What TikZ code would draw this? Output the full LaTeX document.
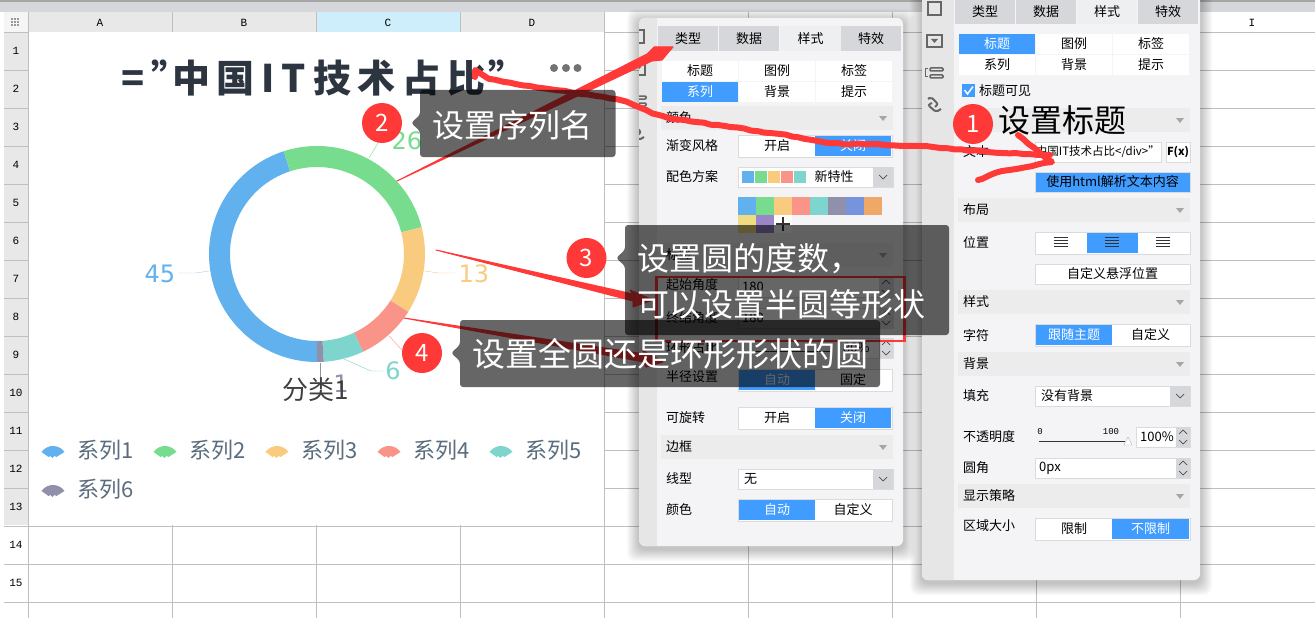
\documentclass[tikz,border=0pt]{standalone}
\usepackage{fontspec}
\setmainfont{Noto Sans CJK SC}
\newfontfamily\digitfont{DejaVu Sans}
\newfontfamily\cellfont{Liberation Mono}
\usetikzlibrary{decorations.pathmorphing}

\definecolor{uiblue}{HTML}{409CFF}
\definecolor{uitab}{HTML}{D6D7DA}
\definecolor{uilight}{HTML}{EEEFF1}
\definecolor{uipanel}{HTML}{F4F4F6}
\definecolor{uistrip}{HTML}{E6E6E6}
\definecolor{uibar}{HTML}{ECECEC}
\definecolor{uiedge}{HTML}{DADBDD}
\definecolor{gridline}{HTML}{BFBFBF}
\definecolor{headgray}{HTML}{E8E8E8}
\definecolor{headblue}{HTML}{CDEEFA}
\definecolor{markred}{HTML}{FF3838}
\definecolor{ringblue}{HTML}{62B1EF}
\definecolor{ringgreen}{HTML}{78DC8F}
\definecolor{ringyellow}{HTML}{F8CB7E}
\definecolor{ringred}{HTML}{FA9488}
\definecolor{ringteal}{HTML}{7DD5CD}
\definecolor{ringgray}{HTML}{9090AA}
\definecolor{legendtext}{HTML}{5A6C7D}
\definecolor{titletext}{HTML}{2C3540}

\tikzset{
  uilabel/.style={inner sep=0pt,font=\fontsize{13}{15}\selectfont},
  cellon/.style={fill=uiblue,text=white},
  celloff/.style={fill=white,text=black},
  tabdark/.style={fill=uitab,text=black},
  tablight/.style={fill=uilight,text=black},
  rowmark/.style={inner sep=0pt,font=\cellfont\fontsize{11}{13}\selectfont},
  chartnum/.style={inner sep=0pt,font=\digitfont\fontsize{24}{26}\selectfont},
  legendlabel/.style={inner sep=0pt,anchor=west,text=legendtext,font=\fontsize{22}{24}\selectfont},
  calloutlabel/.style={inner sep=0pt,anchor=west,text=white,align=left,font=\fontsize{32}{46}\selectfont},
  stepdot/.style={circle,fill=markred,text=white,minimum size=40pt,inner sep=0pt,font=\fontsize{24}{26}\selectfont},
  freehand/.style={draw=markred,line width=6pt,line cap=round,line join=round,
    decorate,decoration={random steps,segment length=7pt,amplitude=.7pt}},
}

% one text cell of the panels
\newcommand{\uicell}[6]{%
  \path[#5] (#1,#2) rectangle (#3,#4);
  \node[uilabel,#5] at ({(#1+#3)/2},{(#2+#4)/2}) {#6};}
\newcommand{\uitag}[3]{\node[uilabel,anchor=west,text=black] at (#1,#2) {#3};}
\newcommand{\uisection}[4]{%
  \fill[uibar] (#1,#3) rectangle (#2,#3+24);
  \uitag{#1+5}{#3+12}{#4}
  \fill[black!35] (#2-14,#3+10) -- (#2-6,#3+10) -- (#2-10,#3+15) -- cycle;}
\newcommand{\uitoggle}[8]{%
  \fill[white,draw=uiedge] (#1,#4) rectangle (#3,#4+22);
  \uicell{#1+1}{#4+1}{#2}{#4+21}{#7}{#5}
  \uicell{#2}{#4+1}{#3-1}{#4+21}{#8}{#6}}
\newcommand{\chevron}[2]{\draw[black!70,line width=.7pt] (#1-4,#2-2) -- (#1,#2+2) -- (#1+4,#2-2);}
\newcommand{\uicombo}[4]{%
  \fill[white,draw=uiedge] (#1,#3) rectangle (#2,#3+20);
  \fill[uitab] (#2-20,#3) rectangle (#2,#3+20);
  \chevron{#2-10}{#3+10}
  \uitag{#1+6}{#3+10}{#4}}
\newcommand{\uispin}[4]{%
  \fill[white,draw=uiedge] (#1,#3) rectangle (#2,#3+20);
  \fill[uitab] (#2-14,#3) rectangle (#2,#3+20);
  \draw[black!70,line width=.7pt] (#2-11,#3+7) -- (#2-7,#3+3) -- (#2-3,#3+7);
  \draw[black!70,line width=.7pt] (#2-11,#3+13) -- (#2-7,#3+17) -- (#2-3,#3+13);
  \uitag{#1+4}{#3+10}{#4}}
\newcommand{\uipanel}[5]{%
  \foreach \s in {1,...,12}
    \fill[black,opacity=.02,rounded corners=8pt] (#1-\s,#2-\s+3) rectangle (#3+\s,#4+\s+3);
  \fill[uipanel,rounded corners=6pt] (#1,#2) rectangle (#3,#4);
  \fill[uistrip,rounded corners=6pt] (#1,#2) rectangle (#5+6,#4);
  \fill[uipanel] (#5,#2) rectangle (#5+8,#4);}
\newcommand{\sideicons}{%
  \draw[black!60,line width=2pt] (928,2) rectangle (941,15);
  \draw[black!60,line width=1.5pt] (927,35) rectangle (942,47);
  \fill[black!60] (931,39) -- (938,39) -- (934.5,43) -- cycle;
  \draw[black!60,line width=1.5pt,rounded corners=1pt] (930,68) rectangle (943,71) (930,75) rectangle (943,78);
  \draw[black!60,line width=1pt] (928,69) -- (925,69) -- (925,77) -- (928,77);
  \draw[black!60,line width=2pt,rounded corners=2pt] (928,99) -- (931,97) -- (938,104) -- (935,107);
  \draw[black!60,line width=2pt,rounded corners=2pt] (932,103) -- (928,105) -- (936,112) -- (941,109);}
\newcommand{\fanicon}[3]{%
  \fill[#3] (#1,#2) ++(215:14) arc[start angle=215,end angle=325,radius=14]
    -- ++(-8,5) -- ++(-2,-1) -- ++(-2,2) -- ++(-2,-2) -- ++(-2,1) -- cycle;}
\newcommand{\calloutbox}[5]{%
  \fill[black,opacity=.6,rounded corners=3pt] (#1,#2) -- (#3,#2) -- (#3,#4) -- (#1,#4)
    -- (#1,#5+8) -- (#1-9,#5) -- (#1,#5-8) -- cycle;}
\newcommand{\wedgearrow}[6]{\filldraw[markred,line width=1pt,line join=round] (#1) -- (#2) -- (#3) -- (#4) -- (#5) -- (#6) -- cycle;}

\begin{document}
\begin{tikzpicture}[x=1pt,y=-1pt]
  \useasboundingbox (0,0) rectangle (1315,618);
  \clip (0,0) rectangle (1315,618);
  \fill[white] (0,0) rectangle (1315,618);

  % sheet: top bar, heads, grid
  \fill[uitab] (0,0) rectangle (1315,12);
  \fill[black!35] (0,0) rectangle (1315,2);
  \fill[headgray] (4,32) rectangle (28,525);
  \fill[black!4] (4,12) rectangle (28,32);
  \fill[headgray] (28,12) rectangle (604,32);
  \fill[headblue] (316,12) rectangle (460,32);
  \foreach \k in {0,...,15}
    \draw[gridline,line width=.8pt] (4,32+38*\k) -- (1315,32+38*\k);
  \foreach \k in {0,...,8}
    \draw[gridline,line width=.8pt] (28+144*\k,12) -- (28+144*\k,618);
  \foreach \i in {0,1,2} \foreach \j in {0,1,2}
    \fill[black!40] (10.5+3*\i,18+3*\j) rectangle +(2,2);
  \foreach \c/\x in {A/100,B/244,C/388,D/532,I/1252}
    \node[rowmark] (col\c) at (\x,23) {\c};
  \foreach \r in {1,...,15}
    \node[rowmark] (row\r) at (16,13+38*\r) {\r};

  % chart
  \fill[white] (28.5,32.5) rectangle (603.6,524.6);
  \node[inner sep=0pt,anchor=west,text=titletext,
    font=\bfseries\fontsize{38}{42}\selectfont\addfontfeatures{LetterSpace=18}] (charttitle) at (121,78)
    {="\hspace{-17pt}中国IT技术占比\hspace{3pt}"};
  \foreach \x in {554,566,577.5}
    \fill[black!55] (\x,68) circle (4);
  \begin{scope}[shift={(317,254)}]
    \foreach \a/\b/\c in {90/252/ringblue,252/345.6/ringgreen,345.6/392.4/ringyellow,
        392.4/424.8/ringred,424.8/446.4/ringteal,446.4/450/ringgray}
      \fill[\c] (\a:108) arc[start angle=\a,end angle=\b,radius=108]
        -- (\b:87) arc[start angle=\b,end angle=\a,radius=87] -- cycle;
  \end{scope}
  \draw[ringgreen] (369,158) -- (378,143);
  \draw[ringblue!60] (209,271) -- (196,273) -- (178,273);
  \draw[ringyellow] (424.5,271) -- (439,273) -- (455,273);
  \draw[ringred] (389,336) -- (402,350);
  \draw[ringteal] (344,359) -- (371,371) -- (383,371);
  \draw[ringgray] (320,363) -- (320,380);
  \node[chartnum,text=ringblue] (num45) at (160,274) {45};
  \node[chartnum,text=ringgreen] (num26) at (407,141) {26};
  \node[chartnum,text=ringyellow] (num13) at (474,274) {13};
  \node[chartnum,text=ringteal] (num6) at (393,371) {6};
  \node[chartnum,text=ringgray] (num1) at (341,384) {1};
  \node[inner sep=0pt,text=black!75,font=\fontsize{26}{28}\selectfont] (seriesname) at (316,390) {分类1};
  \foreach \n/\x/\y/\c in {1/53/460/ringblue,2/165/460/ringgreen,3/277/460/ringyellow,
      4/389/460/ringred,5/501/460/ringteal,6/53/499/ringgray} {
    \fanicon{\x}{\y}{\c}
    \node[legendlabel] (legend\n) at (\x+24,\y-10) {系列\n};
  }

  % middle panel
  \uipanel{639}{18}{903}{546}{657}
  \begin{scope}
    \clip (639,18) rectangle (657,546);
    \begin{scope}[shift={(-297,28)}]
      \sideicons
    \end{scope}
  \end{scope}
  \uicell{658}{26}{718}{51}{tabdark}{类型}
  \uicell{719}{26}{779}{51}{tabdark}{数据}
  \uicell{780}{26}{841}{51}{tablight}{样式}
  \uicell{841}{26}{901}{51}{tabdark}{特效}
  \uicell{662}{61}{738}{81}{celloff}{标题}
  \uicell{739}{61}{815}{81}{celloff}{图例}
  \uicell{816}{61}{892}{81}{celloff}{标签}
  \uicell{662}{82}{738}{102}{cellon}{系列}
  \uicell{739}{82}{815}{102}{celloff}{背景}
  \uicell{816}{82}{892}{102}{celloff}{提示}
  \uisection{661}{893}{106}{颜色}
  \uitag{666}{146}{渐变风格}
  \uitoggle{738}{815}{892}{135}{开启}{关闭}{celloff}{cellon}
  \uitag{666}{177}{配色方案}
  \uicombo{738}{893}{167}{}
  \foreach \c [count=\i from 0] in {ringblue,ringgreen,ringyellow,ringred,ringteal}
    \fill[\c] (742+13*\i,171) rectangle +(12,12);
  \node[uilabel] (schemename) at (834,177) {新特性};
  \foreach \c [count=\i from 0] in {62B1EF,78DC8F,F8CB7E,FA9488,7DD5CD,9090AA,7594DD,F0A868} {
    \definecolor{swatch}{HTML}{\c}
    \fill[swatch] (738+18*\i,197) rectangle +(18,18);
  }
  \definecolor{swatch}{HTML}{F0DC80}
  \fill[swatch] (738,215) rectangle +(18,18);
  \definecolor{swatch}{HTML}{9A85C8}
  \fill[swatch] (756,215) rectangle +(18,18);
  \fill[white] (774,215) rectangle +(18,18);
  \draw[black!80,line width=2pt] (776,224) -- (790,224) (783,217) -- (783,231);
  \uisection{661}{893}{243}{标签}
  \uitag{666}{285}{起始角度}
  \uispin{738}{893}{277}{180}
  \uitag{666}{318}{终结角度}
  \uispin{738}{893}{308}{180}
  \uitag{666}{348}{环形占比}
  \draw[black!80] (745,351) -- (832,351);
  \uispin{839}{893}{338}{80\%}
  \uitag{666}{377}{半径设置}
  \uitoggle{738}{815}{892}{369}{自动}{固定}{cellon}{celloff}
  \uitag{666}{418}{可旋转}
  \uitoggle{738}{815}{892}{407}{开启}{关闭}{celloff}{cellon}
  \uisection{661}{893}{435}{边框}
  \uitag{666}{479}{线型}
  \uicombo{738}{893}{469}{无}
  \uitag{666}{510}{颜色}
  \uitoggle{738}{815}{892}{499}{自动}{自定义}{cellon}{celloff}

  % right panel
  \uipanel{922}{-10}{1200}{580}{954}
  \sideicons
  \uicell{955}{0}{1015}{24}{tabdark}{类型}
  \uicell{1016}{0}{1076}{24}{tabdark}{数据}
  \uicell{1077}{0}{1137}{24}{tablight}{样式}
  \uicell{1138}{0}{1198}{24}{tabdark}{特效}
  \uicell{959}{34}{1035}{54}{cellon}{标题}
  \uicell{1036}{34}{1112}{54}{celloff}{图例}
  \uicell{1113}{34}{1189}{54}{celloff}{标签}
  \uicell{959}{55}{1035}{75}{celloff}{系列}
  \uicell{1036}{55}{1112}{75}{celloff}{背景}
  \uicell{1113}{55}{1189}{75}{celloff}{提示}
  \fill[uiblue] (962,84) rectangle (975,97);
  \draw[white,line width=1.5pt] (964.5,90) -- (967.5,94) -- (973,86.5);
  \uitag{979}{91}{标题可见}
  \uisection{958}{1190}{108}{}
  \uitag{963}{152}{文本}
  \fill[white,draw=uiedge] (1035,142) rectangle (1161,162);
  \node[inner sep=0pt,anchor=east,text=black,font=\fontsize{11.5}{13}\selectfont] (titleinput) at (1160,152) {中国IT技术占比</div>"};
  \fill[white,draw=uiedge] (1166,142) rectangle (1190,162);
  \node[inner sep=0pt,font=\fontsize{11}{13}\selectfont\bfseries] (fxbutton) at (1178,152) {F(x)};
  \fill[uiblue,draw=uiedge] (1035,172) rectangle (1190,192);
  \node[uilabel,text=black] (htmlbutton) at (1112.5,182) {使用html解析文本内容};
  \uisection{958}{1190}{198}{布局}
  \uitag{963}{243}{位置}
  \fill[white,draw=uiedge] (1035,232) rectangle (1190,254);
  \fill[uiblue] (1087,233) rectangle (1138,253);
  \foreach \k in {0,1,2,3} {
    \draw[black!80] (1054,237.5+3*\k) -- (1068,237.5+3*\k);
    \draw[black!80] (1105,237.5+3*\k) -- (1119,237.5+3*\k);
    \draw[black!80] (1156,237.5+3*\k) -- (1170,237.5+3*\k);
  }
  \fill[white,draw=uiedge] (1035,264) rectangle (1190,284);
  \node[uilabel] (floatbutton) at (1112.5,274) {自定义悬浮位置};
  \uisection{958}{1190}{290}{样式}
  \uitag{963}{336}{字符}
  \uitoggle{1035}{1112}{1190}{324}{跟随主题}{自定义}{cellon}{celloff}
  \uisection{958}{1190}{352}{背景}
  \uitag{963}{396}{填充}
  \uicombo{1035}{1190}{386}{没有背景}
  \uitag{963}{437}{不透明度}
  \node[inner sep=0pt,font=\cellfont\fontsize{9}{11}\selectfont] (sliderlow) at (1040,432) {0};
  \node[inner sep=0pt,font=\cellfont\fontsize{9}{11}\selectfont] (sliderhigh) at (1111,432) {100};
  \draw[black!80] (1039,441) -- (1125,441);
  \draw[black!35,fill=white] (1128,437) -- (1132,445) -- (1124,445) -- cycle;
  \uispin{1136}{1190}{427}{100\%}
  \uitag{963}{468}{圆角}
  \uispin{1035}{1190}{458}{0px}
  \uisection{958}{1190}{484}{显示策略}
  \uitag{963}{526}{区域大小}
  \uitoggle{1035}{1112}{1190}{518}{限制}{不限制}{celloff}{cellon}

  % red marks
  \coordinate (titleend) at (475,77);
  \coordinate (greenend) at (397,181);
  \coordinate (yellowend) at (436,250);
  \coordinate (redend) at (404,318);
  \draw[freehand] plot[smooth] coordinates {(titleend) (530,86) (575,93) (620,100) (663,116)
    (730,127) (797,137) (830,143) (920,146) (988,152) (1050,155)};
  \draw[freehand] (1018,135) -- (1052,162) -- (1002,171) -- (978,180);
  \wedgearrow{greenend}{647,54}{654,47}{673,47}{662,60}{652,61}
  \wedgearrow{yellowend}{633,294}{630,290}{653,300}{633,307}{633,301}
  \wedgearrow{redend}{645,354}{642,350}{663,362}{646,367}{644,362}
  \draw[markred,line width=2.5pt] (656.5,277) rectangle (904.5,341);

  % callouts
  \calloutbox{420}{90}{615.5}{157}{123}
  \calloutbox{625}{225}{949}{335}{258}
  \calloutbox{460}{320}{880}{387}{353}
  \node[calloutlabel] (label2) at (432,125) {设置序列名};
  \node[calloutlabel] (label3) at (637,281) {设置圆的度数，\\可以设置半圆等形状};
  \node[calloutlabel,font=\fontsize{33}{46}\selectfont] (label4) at (472,354) {设置全圆还是环形形状的圆};
  \node[calloutlabel,text=black] (label1) at (998,120) {设置标题};
  \node[stepdot] (mark1) at (973,124) {1};
  \node[stepdot] (mark2) at (382,123) {2};
  \node[stepdot] (mark3) at (586.5,258) {3};
  \node[stepdot] (mark4) at (422,353) {4};
\end{tikzpicture}
\end{document}
